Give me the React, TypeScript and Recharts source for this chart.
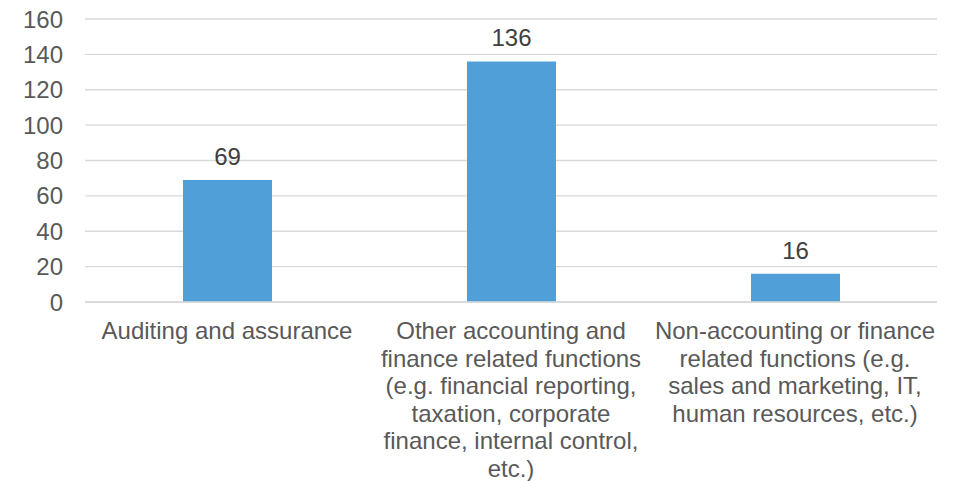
import React from "react";
import { BarChart, Bar, XAxis, YAxis, CartesianGrid, LabelList } from "recharts";

const categories: string[] = [
  "Auditing and assurance",
  "Other accounting and\nfinance related functions\n(e.g. financial reporting,\ntaxation, corporate\nfinance, internal control,\netc.)",
  "Non-accounting or finance\nrelated functions (e.g.\nsales and marketing, IT,\nhuman resources, etc.)",
];
const values: number[] = [69, 136, 16];
const yTicks: number[] = [0, 20, 40, 60, 80, 100, 120, 140, 160];

const data = categories.map((c, i) => ({ name: c, value: values[i] }));

const FONT = "Arial, 'Liberation Sans', sans-serif";

const CategoryTick = (props: any) => {
  const { x, y, payload } = props;
  const lines: string[] = String(payload.value).split("\n");
  return (
    <text x={x} y={y} textAnchor="middle" fill="#595959" fontFamily={FONT} fontSize={24}>
      {lines.map((l, i) => (
        <tspan key={i} x={x} dy={i === 0 ? 37 : 27.5}>
          {l}
        </tspan>
      ))}
    </text>
  );
};

export default function App() {
  return (
    <div style={{ position: "absolute", left: 0, top: 0, background: "#fff" }}>
      <BarChart
        width={961}
        height={481}
        data={data}
        margin={{ top: 19, right: 24, left: 0, bottom: 0 }}
      >
        <CartesianGrid vertical={false} stroke="#D9D9D9" strokeWidth={1.3} />
        <XAxis
          dataKey="name"
          height={179}
          interval={0}
          tickLine={false}
          tickSize={0}
          tickMargin={0}
          axisLine={{ stroke: "#D9D9D9", strokeWidth: 1.3 }}
          tick={<CategoryTick />}
        />
        <YAxis
          width={85}
          domain={[0, 160]}
          ticks={yTicks}
          interval={0}
          axisLine={false}
          tickLine={false}
          tickSize={0}
          tickMargin={22}
          tick={{ fill: "#595959", fontFamily: FONT, fontSize: 24 }}
        />
        <Bar dataKey="value" fill="#509FD8" barSize={89} isAnimationActive={false}>
          <LabelList
            dataKey="value"
            position="top"
            offset={15}
            fill="#404040"
            fontFamily={FONT}
            fontSize={24}
          />
        </Bar>
      </BarChart>
    </div>
  );
}
